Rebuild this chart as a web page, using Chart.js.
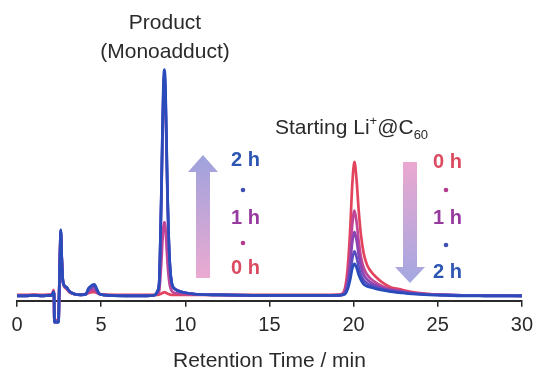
<!DOCTYPE html>
<html>
<head>
<meta charset="utf-8">
<script src="https://cdn.jsdelivr.net/npm/chart.js@4/dist/chart.umd.min.js"></script>
<style>
  body { margin: 0; background: #fff; }
  canvas { display: block; }
</style>
</head>
<body>
<canvas id="hplc" width="540" height="374"></canvas>
<script>
// Retention times (min) shared by every trace
var times = [0, 0.5, 1.0, 1.5, 1.9, 2.1, 2.16, 2.2, 2.22, 2.47,
    2.5, 2.55, 2.6, 2.66, 2.72, 2.8, 2.95, 3.1, 3.4, 3.8,
    4.1, 4.25, 4.45, 4.6, 4.75, 4.9, 5.5, 6.5, 7.5, 8.2,
    8.35, 8.45, 8.52, 8.58, 8.64, 8.70, 8.76, 8.82, 8.88, 8.94,
    9.0, 9.08, 9.2, 9.4, 9.8, 10.5, 12, 14, 16, 17.5,
    18.5, 19.0, 19.3, 19.5, 19.65, 19.8, 19.92, 20.05, 20.18, 20.3,
    20.45, 20.6, 20.8, 21.0, 21.3, 21.7, 22.2, 22.7, 23.5, 24.5,
    25.5, 27, 28.5, 30];

// Detector signal (a.u.), one array per reaction time
var signal0h = [2, 2, 2.5, 2, 2.5, 3, 7, 3, -24, -24,
    0, 38, 66, 38, 17, 11, 8, 5, 3, 2.5,
    3, 4, 5, 5, 4, 3, 2, 2, 2, 2,
    2, 2.5, 3, 3.5, 4, 4.5, 5, 4.5, 4, 3.5,
    3, 2.5, 2, 2, 2, 2, 2, 2, 2, 2,
    2, 2, 3, 10, 30, 70, 115, 139, 120, 90,
    62, 45, 33, 27, 21, 15, 10, 8, 5, 3,
    2, 1.5, 1.5, 1];
var signal05h = [1.5, 1.5, 2, 1.5, 2, 2.5, 6, 3, -25, -25,
    0, 39, 67, 39, 17, 11, 9, 5.5, 3, 2,
    3, 5, 7, 7, 5, 3, 2, 1.5, 1.5, 2,
    3, 6, 20, 36, 56, 72, 77, 72, 54, 36,
    23, 12, 6, 4, 3, 2.5, 2, 1.5, 1.5, 1.5,
    1.5, 2, 2.5, 7, 20, 45, 74, 89, 77, 58,
    40, 30, 23, 19, 15, 11, 8, 6.5, 4, 3,
    2, 1.5, 1.5, 1];
var signal1h = [1, 1, 1.5, 1, 1.5, 2, 5.5, 3, -26, -26,
    0, 40, 68, 40, 18, 12, 9, 6, 3, 2,
    3, 7, 9, 10, 6, 3, 1.5, 1, 1, 2,
    6, 14, 56, 102, 158, 205, 218, 203, 154, 102,
    65, 33, 13, 8, 5, 3, 2, 1.5, 1.5, 1.5,
    1.5, 1.5, 2, 5, 15, 34, 56, 67, 58, 44,
    31, 23, 18, 15, 12, 9, 7, 6, 4, 2.5,
    2, 1.5, 1, 1];
var signal15h = [1, 1, 1.5, 1, 1.5, 2, 5, 3, -26, -26,
    0, 40, 69, 40, 18, 12, 10, 6, 3, 2,
    3, 8, 11, 12, 7, 3, 1.5, 1, 1, 2,
    6, 15, 58, 107, 166, 214, 228, 212, 161, 107,
    68, 34, 14, 8, 5, 3, 2, 1.5, 1.5, 1.5,
    1.5, 1.5, 2, 4, 11, 24, 39, 47, 41, 31,
    22, 17, 14, 12, 10, 8, 6, 5, 3.5, 2.5,
    2, 1.5, 1, 1];
var signal2h = [1, 1, 1.5, 1, 1.5, 2, 5, 3, -26, -26,
    0, 40, 69, 40, 18, 12, 10, 6, 3, 2,
    3, 9, 12, 13, 8, 3, 1.5, 1, 1, 2,
    6, 15, 60, 110, 170, 220, 234, 218, 165, 110,
    70, 35, 14, 8, 5, 3, 2, 1.5, 1.5, 1.5,
    1.5, 1.5, 2, 3, 8, 18, 29, 34, 30, 23,
    17, 13, 11, 10, 8.5, 7, 5.5, 4.5, 3, 2,
    1.5, 1, 1, 1];

var xTicks = [0, 5, 10, 15, 20, 25, 30];

var FONT = '"Liberation Sans", Arial, Helvetica, sans-serif';
var INK = '#2a2a2a';

function toPoints(values) {
    return times.map(function(t, i) {
        return { x: t, y: values[i] };
    });
}

function trace(label, values, color) {
    return {
        label: label,
        data: toPoints(values),
        borderColor: color,
        borderWidth: 2.7,
        pointRadius: 0,
        fill: false,
        clip: false,
        cubicInterpolationMode: 'monotone'
    };
}

// arrows, annotations and the time legend drawn on top of the traces
var notesPlugin = {
    id: 'notes',
    afterDraw: function(chart) {
        var c = chart.ctx;
        c.save();

        // up arrow (product grows)
        var g = c.createLinearGradient(0, 155, 0, 278);
        g.addColorStop(0, '#9ea2dd');
        g.addColorStop(1, '#ebaad1');
        c.fillStyle = g;
        c.beginPath();
        c.moveTo(203, 155);
        c.lineTo(218, 172);
        c.lineTo(210, 172);
        c.lineTo(210, 278);
        c.lineTo(196, 278);
        c.lineTo(196, 172);
        c.lineTo(188, 172);
        c.closePath();
        c.fill();

        // down arrow (starting material decays)
        g = c.createLinearGradient(0, 162, 0, 283);
        g.addColorStop(0, '#eaa8d0');
        g.addColorStop(1, '#a4a7e1');
        c.fillStyle = g;
        c.beginPath();
        c.moveTo(403, 162);
        c.lineTo(417, 162);
        c.lineTo(417, 267);
        c.lineTo(425, 267);
        c.lineTo(410, 283);
        c.lineTo(395, 267);
        c.lineTo(403, 267);
        c.closePath();
        c.fill();

        c.textBaseline = 'middle';
        c.fillStyle = INK;
        c.font = '21px ' + FONT;
        c.textAlign = 'center';
        c.fillText('Product', 165, 23);
        c.fillText('(Monoadduct)', 165, 52);

        // Starting Li+@C60 with super/subscripts
        c.textAlign = 'left';
        var x = 275;
        c.font = '21px ' + FONT;
        c.fillText('Starting Li', x, 128);
        x += c.measureText('Starting Li').width;
        c.font = '13px ' + FONT;
        c.fillText('+', x, 121);
        x += c.measureText('+').width;
        c.font = '21px ' + FONT;
        c.fillText('@C', x, 128);
        x += c.measureText('@C').width;
        c.font = '13px ' + FONT;
        c.fillText('60', x, 135);

        // time legend beside each arrow
        c.font = 'bold 20px ' + FONT;
        var left = [['2 h', '#2d55b2', 160], ['1 h', '#973a9f', 218], ['0 h', '#dc4a60', 268]];
        var right = [['0 h', '#dc4a60', 162], ['1 h', '#973a9f', 218], ['2 h', '#2d55b2', 272]];
        left.forEach(function(l) { c.fillStyle = l[1]; c.fillText(l[0], 231, l[2]); });
        right.forEach(function(l) { c.fillStyle = l[1]; c.fillText(l[0], 433, l[2]); });
        var dots = [[243, 190, '#3f50b2'], [243, 243, '#b23c8e'], [446, 190, '#b23c8e'], [446, 245, '#3f50b2']];
        dots.forEach(function(d) {
            c.fillStyle = d[2];
            c.beginPath();
            c.arc(d[0], d[1], 2.3, 0, Math.PI * 2);
            c.fill();
        });
        c.restore();
    }
};

var ctx = document.getElementById('hplc').getContext('2d');
var hplcChart = new Chart(ctx, {
    type: 'line',
    data: {
        datasets: [
            trace('2 h', signal2h, '#2a4cbb'),
            trace('1.5 h', signal15h, '#5b4dbf'),
            trace('1 h', signal1h, '#8a45b2'),
            trace('0.5 h', signal05h, '#bf4598'),
            trace('0 h', signal0h, '#e2445e')
        ]
    },
    options: {
        responsive: false,
        animation: false,
        layout: { padding: { left: 17, right: 15, top: 60, bottom: 0 } },
        plugins: {
            legend: { display: false },
            tooltip: { enabled: false }
        },
        scales: {
            x: {
                type: 'linear',
                min: 0,
                max: 30,
                afterBuildTicks: function(axis) {
                    axis.ticks = xTicks.map(function(v) { return { value: v }; });
                },
                ticks: {
                    color: INK,
                    font: { family: FONT, size: 20 },
                    padding: 7,
                    maxRotation: 0
                },
                grid: {
                    drawOnChartArea: false,
                    drawTicks: true,
                    tickLength: 6,
                    color: INK,
                    lineWidth: 1.5
                },
                border: { display: true, color: INK, width: 2 },
                title: {
                    display: true,
                    text: 'Retention Time / min',
                    color: INK,
                    font: { family: FONT, size: 21 },
                    padding: { top: 4, bottom: 0 }
                }
            },
            y: { display: false, min: -4, max: 244 }
        }
    },
    plugins: [notesPlugin]
});
</script>
</body>
</html>
